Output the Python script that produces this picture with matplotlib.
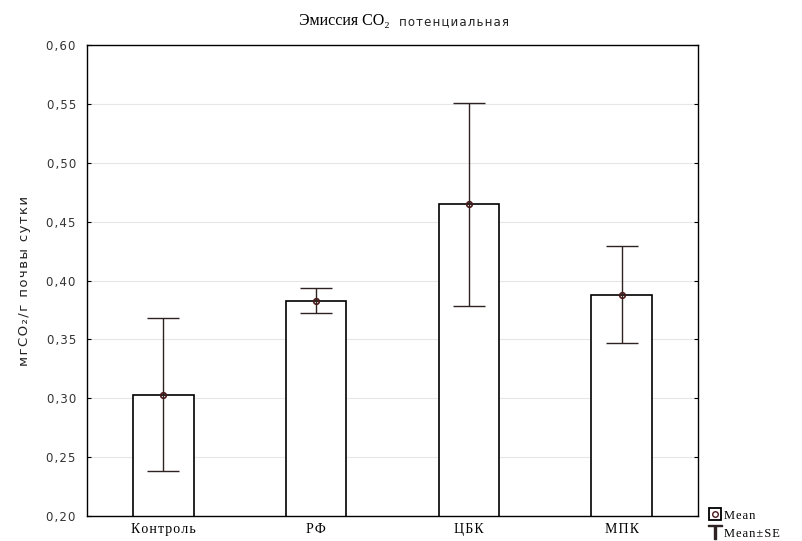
import numpy as np
import matplotlib
matplotlib.use("Agg")
import matplotlib.pyplot as plt
from matplotlib.lines import Line2D
from matplotlib.ticker import FuncFormatter

# data
groups = ["Контроль", "РФ", "ЦБК", "МПК"]
means = [0.303, 0.383, 0.465, 0.388]
err_low = [0.238, 0.372, 0.378, 0.347]
err_high = [0.368, 0.394, 0.551, 0.429]
yticks = [0.20, 0.25, 0.30, 0.35, 0.40, 0.45, 0.50, 0.55, 0.60]


def spaced(s):
    # the original labels are set loosely
    return "\u200a".join(s)


fig = plt.figure(figsize=(8.03, 5.41), dpi=100)
ax = fig.add_axes([0.1083, 0.0462, 0.7609, 0.8706])

x = np.arange(len(groups))
means_a = np.array(means)
yerr = np.vstack([means_a - np.array(err_low), np.array(err_high) - means_a])

ax.bar(x, means, width=0.395, bottom=0, color="white", edgecolor="black",
       linewidth=1.2, zorder=2)
ax.errorbar(x, means, yerr=yerr, fmt="none", ecolor="#2e2222", elinewidth=1.0,
            capsize=11.5, capthick=1.0, zorder=3)
ax.plot(x, means, "o", ms=4, mfc="none", mec="#4a1a1a", mew=1.2, zorder=4)

ax.set_xlim(-0.5, 3.5)
ax.set_ylim(0.20, 0.60)
ax.set_yticks(yticks)
ax.yaxis.set_major_formatter(FuncFormatter(lambda v, p: spaced(("%.2f" % v).replace(".", ","))))
ax.set_xticks(x)
ax.set_xticklabels([spaced(g) for g in groups], family="Liberation Serif", fontsize=10)
ax.tick_params(axis="x", direction="in", length=2, pad=5)
ax.tick_params(axis="y", direction="in", length=3, labelsize=8.5,
               labelcolor="#333333", right=True, pad=8)
for lab in ax.get_yticklabels():
    lab.set_family("DejaVu Sans")

ax.grid(axis="y", color="#e6e6e6", linewidth=0.8, zorder=0)
ax.set_axisbelow(True)
for s in ax.spines.values():
    s.set_linewidth(1.0)
    s.set_color("black")

ax.set_ylabel(spaced("мгCO₂/г почвы сутки"), fontsize=9.5, family="DejaVu Sans",
              labelpad=11, color="#222222")
fig.text(0.485, 0.962, "Эмиссия CO₂", ha="right", va="center",
         family="Liberation Serif", fontsize=11.5)
fig.text(0.497, 0.960, spaced("потенциальная"), ha="left", va="center",
         family="DejaVu Sans", fontsize=8.5, color="#222222")

mean_icon = (Line2D([], [], marker="s", ls="none", mfc="none", mec="black", ms=9, mew=1.3),
             Line2D([], [], marker="o", ls="none", mfc="none", mec="#4a1a1a", ms=4, mew=1.0))
se_icon = Line2D([], [], marker="$\\top$", ls="none", color="#2e2222", ms=10)
fig.legend([mean_icon, se_icon], [spaced("Mean"), spaced("Mean±SE")], loc="lower left",
           bbox_to_anchor=(0.872, -0.014), frameon=False,
           prop={"family": "Liberation Serif", "size": 9},
           handlelength=0.9, handletextpad=0.3, labelspacing=0.5,
           borderpad=0.2)

fig.savefig("out.png", dpi=100)
